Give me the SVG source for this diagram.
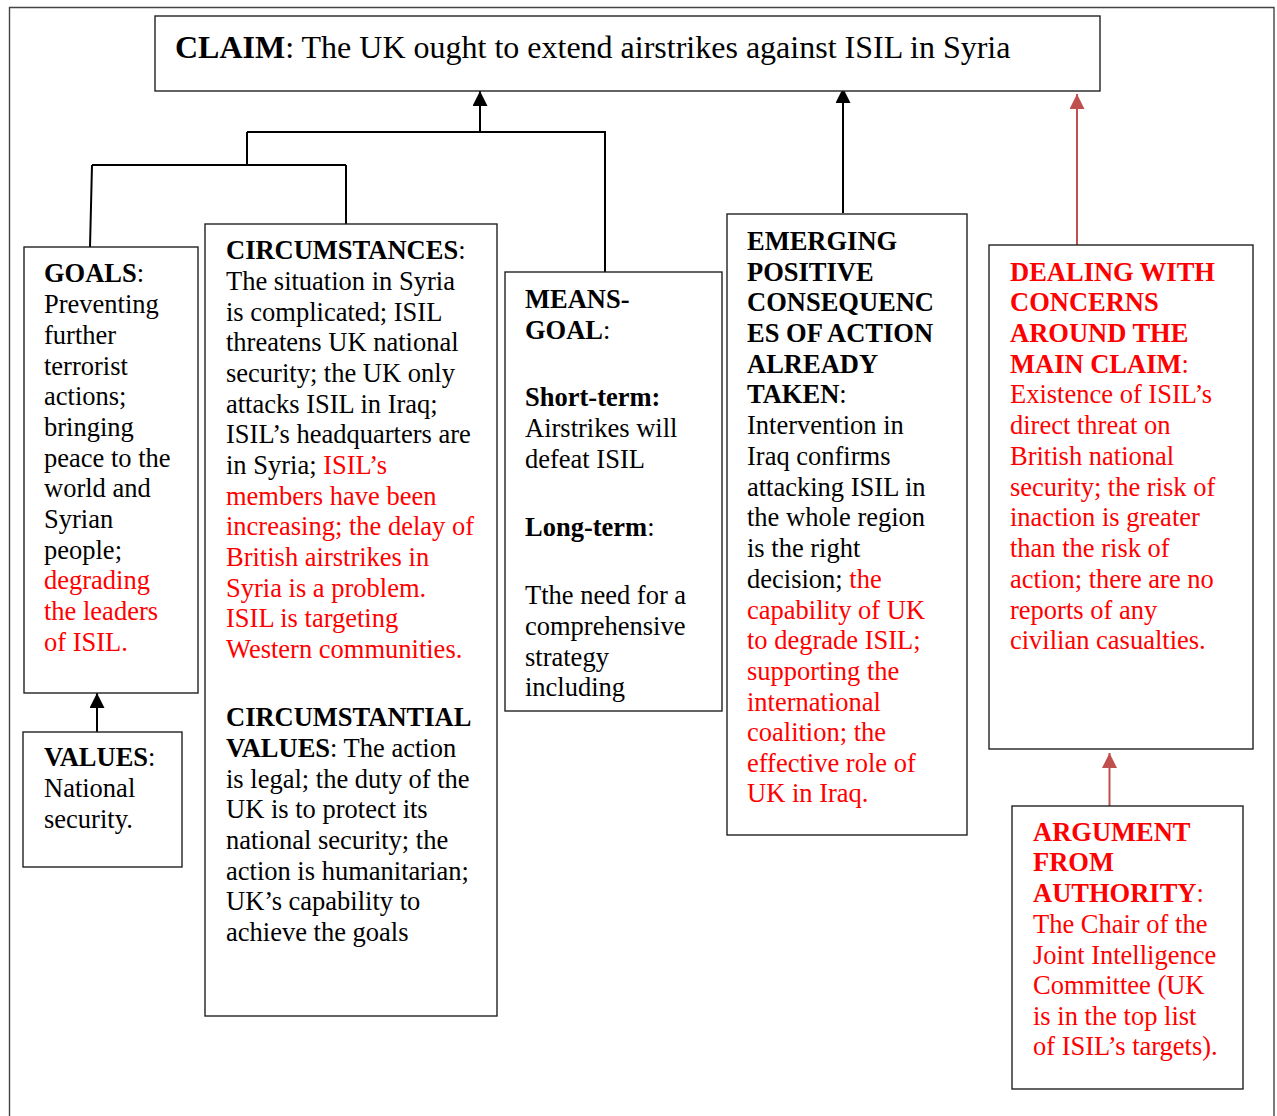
<svg xmlns="http://www.w3.org/2000/svg" width="1277" height="1116" viewBox="0 0 1277 1116">
<style>
.box{fill:#fff;stroke:#222;stroke-width:1.4}
.t{font-family:"Liberation Serif","Times New Roman",serif;font-size:26.5px;fill:#000}
.r{fill:#ff0000}
.b{font-weight:bold}
.con{fill:none;stroke:#000;stroke-width:2}
.conr{fill:none;stroke:#c0504d;stroke-width:2}
</style>
<defs>
<marker id="ab" markerUnits="userSpaceOnUse" viewBox="0 0 15 15" refX="15" refY="7.5" markerWidth="15" markerHeight="15" orient="auto">
<path d="M0,0 L15,7.5 L0,15 Z" fill="#000"/>
</marker>
<marker id="ar" markerUnits="userSpaceOnUse" viewBox="0 0 15 15" refX="15" refY="7.5" markerWidth="15" markerHeight="15" orient="auto">
<path d="M0,0 L15,7.5 L0,15 Z" fill="#c0504d"/>
</marker>
</defs>
<rect width="1277" height="1116" fill="#fff"/>
<path d="M9.5,1116 V7.5 H1274 V1116" fill="none" stroke="#444" stroke-width="1.4"/>

<g id="connectors">
<path class="con" d="M480,132 V91" marker-end="url(#ab)"/>
<path class="con" d="M247,132 H606 M605,132 V272 M247,132 V165 M92,165 H346 M92,165 L90,247 M346,165 V224"/>
<path class="con" d="M843,213 V88" marker-end="url(#ab)"/>
<path class="conr" d="M1077,245 V94" marker-end="url(#ar)"/>
<path class="con" d="M97,732 V693" marker-end="url(#ab)"/>
<path class="conr" d="M1109.5,806 V753" marker-end="url(#ar)"/>
</g>

<g id="claim">
<rect class="box" x="155" y="16" width="945" height="75"/>
<text class="t" x="175" y="58" style="font-size:32px"><tspan class="b">CLAIM</tspan>: The UK ought to extend airstrikes against ISIL in Syria</text>
</g>

<g id="goals">
<rect class="box" x="24" y="247" width="174" height="446"/>
<text class="t" x="44"><tspan x="44" y="282"><tspan class="b">GOALS</tspan>:</tspan><tspan x="44" y="313">Preventing</tspan><tspan x="44" y="344">further</tspan><tspan x="44" y="375">terrorist</tspan><tspan x="44" y="405">actions;</tspan><tspan x="44" y="436">bringing</tspan><tspan x="44" y="467">peace to the</tspan><tspan x="44" y="497">world and</tspan><tspan x="44" y="528">Syrian</tspan><tspan x="44" y="559">people;</tspan><tspan class="r" x="44" y="589">degrading</tspan><tspan class="r" x="44" y="620">the leaders</tspan><tspan class="r" x="44" y="651">of ISIL.</tspan></text>
</g>

<g id="values">
<rect class="box" x="23" y="732" width="159" height="135"/>
<text class="t"><tspan x="44" y="766"><tspan class="b">VALUES</tspan>:</tspan><tspan x="44" y="797">National</tspan><tspan x="44" y="828">security.</tspan></text>
</g>

<g id="circumstances">
<rect class="box" x="205" y="224" width="292" height="792"/>
<text class="t"><tspan x="226" y="259"><tspan class="b">CIRCUMSTANCES</tspan>:</tspan><tspan x="226" y="290">The situation in Syria</tspan><tspan x="226" y="321">is complicated; ISIL</tspan><tspan x="226" y="351">threatens UK national</tspan><tspan x="226" y="382">security; the UK only</tspan><tspan x="226" y="413">attacks ISIL in Iraq;</tspan><tspan x="226" y="443">ISIL’s headquarters are</tspan><tspan x="226" y="474">in Syria; <tspan class="r">ISIL’s</tspan></tspan><tspan class="r" x="226" y="505">members have been</tspan><tspan class="r" x="226" y="535">increasing; the delay of</tspan><tspan class="r" x="226" y="566">British airstrikes in</tspan><tspan class="r" x="226" y="597">Syria is a problem.</tspan><tspan class="r" x="226" y="627">ISIL is targeting</tspan><tspan class="r" x="226" y="658">Western communities.</tspan><tspan x="226" y="726" class="b">CIRCUMSTANTIAL</tspan><tspan x="226" y="757"><tspan class="b">VALUES</tspan>: The action</tspan><tspan x="226" y="788">is legal; the duty of the</tspan><tspan x="226" y="818">UK is to protect its</tspan><tspan x="226" y="849">national security; the</tspan><tspan x="226" y="880">action is humanitarian;</tspan><tspan x="226" y="910">UK’s capability to</tspan><tspan x="226" y="941">achieve the goals</tspan></text>
</g>

<g id="means-goal">
<rect class="box" x="505" y="272" width="217" height="439"/>
<text class="t"><tspan x="525" y="308" class="b">MEANS-</tspan><tspan x="525" y="339"><tspan class="b">GOAL</tspan>:</tspan><tspan x="525" y="406" class="b">Short-term:</tspan><tspan x="525" y="437">Airstrikes will</tspan><tspan x="525" y="468">defeat ISIL</tspan><tspan x="525" y="536"><tspan class="b">Long-term</tspan>:</tspan><tspan x="525" y="604">Tthe need for a</tspan><tspan x="525" y="635">comprehensive</tspan><tspan x="525" y="666">strategy</tspan><tspan x="525" y="696">including</tspan></text>
</g>

<g id="emerging">
<rect class="box" x="727" y="214" width="240" height="621"/>
<text class="t"><tspan x="747" y="250" class="b">EMERGING</tspan><tspan x="747" y="281" class="b">POSITIVE</tspan><tspan x="747" y="311" class="b">CONSEQUENC</tspan><tspan x="747" y="342" class="b">ES OF ACTION</tspan><tspan x="747" y="373" class="b">ALREADY</tspan><tspan x="747" y="403"><tspan class="b">TAKEN</tspan>:</tspan><tspan x="747" y="434">Intervention in</tspan><tspan x="747" y="465">Iraq confirms</tspan><tspan x="747" y="496">attacking ISIL in</tspan><tspan x="747" y="526">the whole region</tspan><tspan x="747" y="557">is the right</tspan><tspan x="747" y="588">decision; <tspan class="r">the</tspan></tspan><tspan class="r" x="747" y="619">capability of UK</tspan><tspan class="r" x="747" y="649">to degrade ISIL;</tspan><tspan class="r" x="747" y="680">supporting the</tspan><tspan class="r" x="747" y="711">international</tspan><tspan class="r" x="747" y="741">coalition; the</tspan><tspan class="r" x="747" y="772">effective role of</tspan><tspan class="r" x="747" y="802">UK in Iraq.</tspan></text>
</g>

<g id="dealing">
<rect class="box" x="989" y="245" width="264" height="504"/>
<text class="t r"><tspan x="1010" y="281" class="b">DEALING WITH</tspan><tspan x="1010" y="311" class="b">CONCERNS</tspan><tspan x="1010" y="342" class="b">AROUND THE</tspan><tspan x="1010" y="373"><tspan class="b">MAIN CLAIM</tspan>:</tspan><tspan x="1010" y="403">Existence of ISIL’s</tspan><tspan x="1010" y="434">direct threat on</tspan><tspan x="1010" y="465">British national</tspan><tspan x="1010" y="496">security; the risk of</tspan><tspan x="1010" y="526">inaction is greater</tspan><tspan x="1010" y="557">than the risk of</tspan><tspan x="1010" y="588">action; there are no</tspan><tspan x="1010" y="619">reports of any</tspan><tspan x="1010" y="649">civilian casualties.</tspan></text>
</g>

<g id="authority">
<rect class="box" x="1012" y="806" width="231" height="283"/>
<text class="t r"><tspan x="1033" y="841" class="b">ARGUMENT</tspan><tspan x="1033" y="871" class="b">FROM</tspan><tspan x="1033" y="902"><tspan class="b">AUTHORITY</tspan>:</tspan><tspan x="1033" y="933">The Chair of the</tspan><tspan x="1033" y="964">Joint Intelligence</tspan><tspan x="1033" y="994">Committee (UK</tspan><tspan x="1033" y="1025">is in the top list</tspan><tspan x="1033" y="1055">of ISIL’s targets).</tspan></text>
</g>
</svg>
